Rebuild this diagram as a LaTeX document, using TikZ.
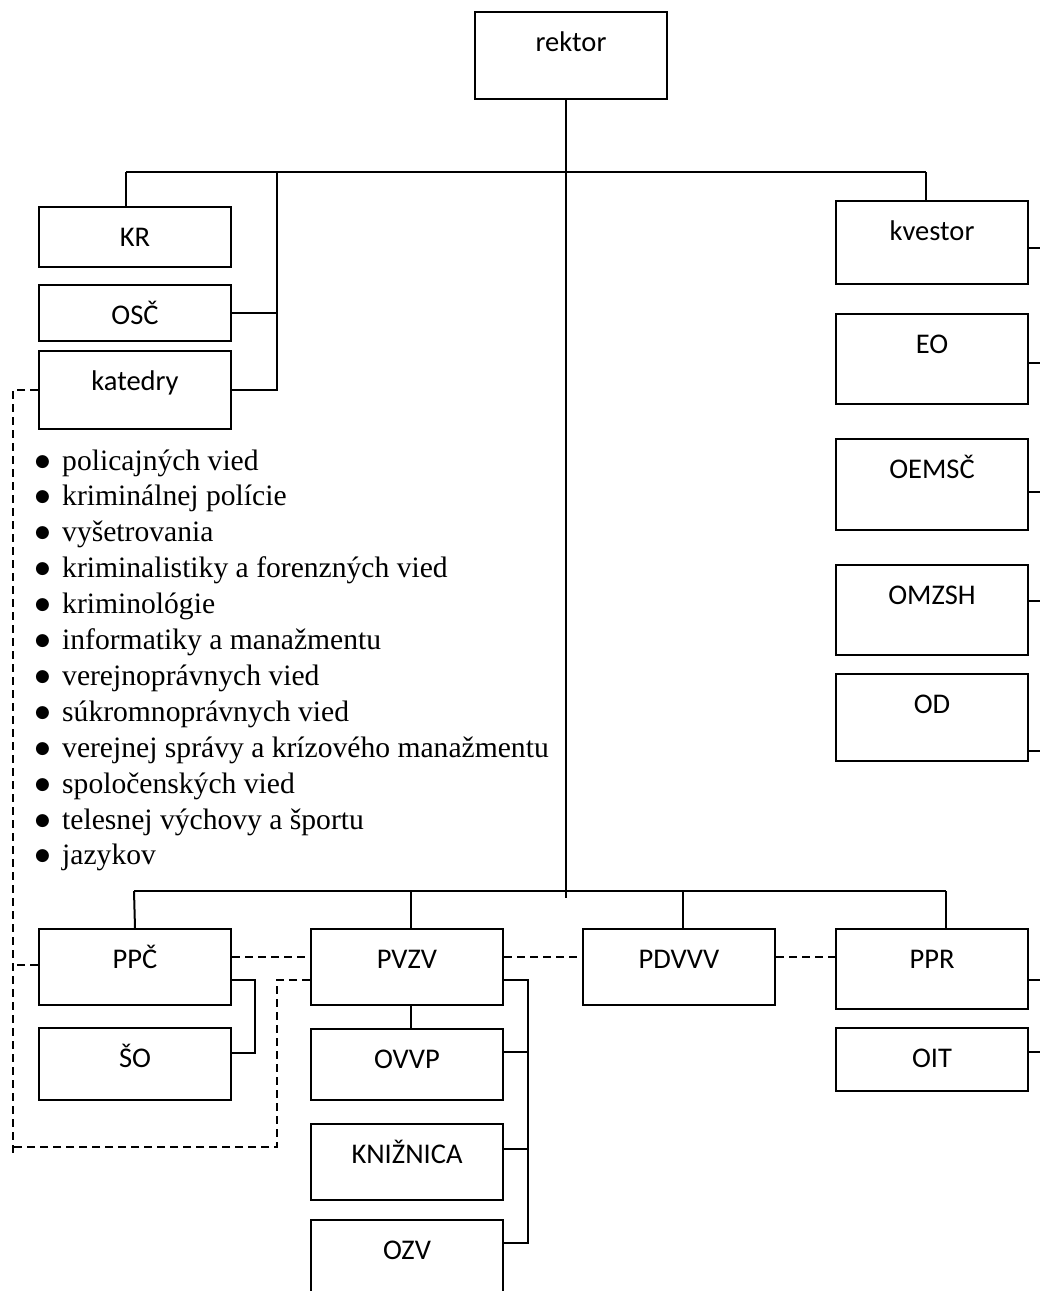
\documentclass[tikz,border=0pt]{standalone}
\usepackage{fontspec}
\setmainfont{Liberation Serif}
\newfontfamily\boxfont{Carlito}
\newfontfamily\dotfont{DejaVu Sans}
\usetikzlibrary{positioning}
\newcommand{\listdot}{\makebox[14pt][l]{\dotfont\fontsize{17}{17}\selectfont\raisebox{4pt}{●}}}

\begin{document}
\begin{tikzpicture}[x=1pt, y=-1pt,
	unit/.style={draw, line width=2pt, minimum width=192pt, inner sep=0pt, text height=39pt, text depth=#1, font=\boxfont\fontsize{28.5}{34}\selectfont},
	unit/.default=37pt,
	wire/.style={line width=2pt},
	link/.style={line width=2pt, dash pattern=on 8pt off 5pt}
	]
	\useasboundingbox (0,0) rectangle (1040,1291);
	\clip (0,0) rectangle (1040,1291);

	\node[unit=48pt, anchor=north west] (rektor) at (474,11) {rektor};

	\node[unit=21pt, anchor=north west] (kr) at (38,206) {KR};
	\node[unit=17pt] (osc) [below=16pt of kr] {OSČ};
	\node[unit=39pt] (katedry) [below=8pt of osc] {katedry};

	\node[unit=44pt, anchor=north west] (kvestor) at (835,200) {kvestor};
	\node[unit=51pt] (eo) [below=28pt of kvestor] {EO};
	\node[unit=52pt] (oemsc) [below=33pt of eo] {OEMSČ};
	\node[unit=51pt] (omzsh) [below=33pt of oemsc] {OMZSH};
	\node[unit=48pt] (od) [below=17pt of omzsh] {OD};

	\node[anchor=base west, inner sep=0pt, font=\fontsize{29.6}{35.9}\selectfont] (deptlist) at (35,470) {%
		\begin{tabular}[t]{@{}l@{\hspace{13pt}}l@{}}
			\listdot & policajných vied\\
			\listdot & kriminálnej polície\\
			\listdot & vyšetrovania\\
			\listdot & kriminalistiky a forenzných vied\\
			\listdot & kriminológie\\
			\listdot & informatiky a manažmentu\\
			\listdot & verejnoprávnych vied\\
			\listdot & súkromnoprávnych vied\\
			\listdot & verejnej správy a krízového manažmentu\\
			\listdot & spoločenských vied\\
			\listdot & telesnej výchovy a športu\\
			\listdot & jazykov
		\end{tabular}};

	\node[unit, anchor=north west] (ppc) at (38,928) {PPČ};
	\node[unit=33pt] (so) [below=21pt of ppc] {ŠO};
	\node[unit] (pvzv) [right=78pt of ppc] {PVZV};
	\node[unit=32pt] (ovvp) [below=22pt of pvzv] {OVVP};
	\node[unit] (kniznica) [below=22pt of ovvp] {KNIŽNICA};
	\node[unit] (ozv) [below=18pt of kniznica] {OZV};
	\node[unit] (pdvvv) [right=78pt of pvzv] {PDVVV};
	\node[unit=41pt, anchor=north west] (ppr) at (835,928) {PPR};
	\node[unit=24pt] (oit) [below=17pt of ppr] {OIT};

	\coordinate (trunkend) at (566,898);
	\coordinate (topbusL) at (126,172);
	\coordinate (topbusJ) at (277,172);
	\coordinate (topbusR) at (926,172);
	\coordinate (botbusL) at (134,891);
	\coordinate (botbusR) at (946,891);
	\coordinate (pvzvdrop) at (411,891);
	\coordinate (pdvvvdrop) at (683,891);
	\coordinate (dashfoot) at (13,1153);
	\coordinate (dashbend) at (277,1147);

	\begin{scope}[wire]
	\draw (rektor.south -| trunkend) -- (trunkend);
	\draw (topbusL) -- (topbusR);
	\draw (topbusL) -- (topbusL |- kr.north);
	\draw (topbusR) -- (topbusR |- kvestor.north);
	\draw (topbusJ) |- (katedry.east);
	\draw (osc.east) -- (osc.east -| topbusJ);
	\draw ([yshift=-5.5pt]kvestor.east) -- ++(16,0);
	\draw ([yshift=-4pt]eo.east) -- ++(16,0);
	\draw ([yshift=-7.5pt]oemsc.east) -- ++(16,0);
	\draw ([yshift=9pt]omzsh.east) -- ++(16,0);
	\draw ([yshift=-33.5pt]od.east) -- ++(16,0);
	\draw (botbusL) -- (botbusR);
	\draw (botbusL) -- (ppc.north);
	\draw (pvzvdrop) -- (pvzvdrop |- pvzv.north);
	\draw (pvzv.south -| pvzvdrop) -- (pvzvdrop |- ovvp.north);
	\draw (pdvvvdrop) -- (pdvvvdrop |- pdvvv.north);
	\draw (botbusR) -- (botbusR |- ppr.north);
	\draw ([yshift=-13pt]ppc.east) -| ([xshift=23pt, yshift=11pt]so.east) -- ([yshift=11pt]so.east);
	\draw ([yshift=-13pt]pvzv.east) -| ([xshift=24pt, yshift=15pt]ozv.east) -- ([yshift=15pt]ozv.east);
	\draw ([yshift=12.5pt]ovvp.east) -- ++(24,0);
	\draw ([yshift=13pt]kniznica.east) -- ++(24,0);
	\draw ([yshift=-11pt]ppr.east) -- ++(16,0);
	\draw ([yshift=7.5pt]oit.east) -- ++(16,0);
	\end{scope}

	% dashed links
	\draw[link] (katedry.west) -| (dashfoot);
	\draw[link] ([yshift=2pt]ppc.west) -- ++(-25,0);
	\draw[link] ([yshift=-13pt]pvzv.west) -| (dashbend) -- (dashbend -| dashfoot);
	\draw[link] ([yshift=10pt]ppc.east) -- ([yshift=10pt]pvzv.west);
	\draw[link] ([yshift=10pt]pvzv.east) -- ([yshift=10pt]pdvvv.west);
	\draw[link] ([yshift=10pt]pdvvv.east) -- ([yshift=10pt]pdvvv.east -| ppr.west);
\end{tikzpicture}
\end{document}
